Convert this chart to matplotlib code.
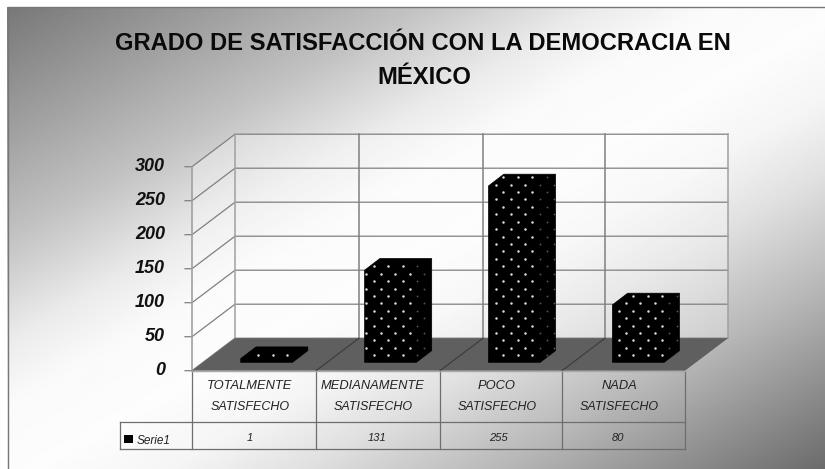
import numpy as np
import matplotlib
matplotlib.use("Agg")
import matplotlib.pyplot as plt
from matplotlib.path import Path
from matplotlib.patches import Polygon

plt.rcParams['font.family'] = ['Liberation Sans', 'DejaVu Sans']

# Chart data
categories = [["TOTALMENTE", "SATISFECHO"], ["MEDIANAMENTE", "SATISFECHO"],
              ["POCO", "SATISFECHO"], ["NADA", "SATISFECHO"]]
values = [1, 131, 255, 80]
series_name = "Serie1"
y_ticks = [0, 50, 100, 150, 200, 250, 300]

W, H = 825, 469
front_x = [192, 316, 440, 562, 685]
dx, dy = 43, 32.5      # oblique offset of the back wall
y0_front = 370.7
px_per_unit = 204 / 300

fig = plt.figure(figsize=(W / 100, H / 100), dpi=100)
ax = fig.add_axes([0, 0, 1, 1])
ax.set_xlim(0, W)
ax.set_ylim(H, 0)
ax.axis('off')

# diagonal background shading
xx, yy = np.meshgrid(np.linspace(0, 1, W), np.linspace(0, 1, H))
t = (xx + yy) / 2
shade = np.interp(t, [0, 0.25, 0.36, 0.43, 0.52, 0.6, 0.68, 0.8, 1],
                  [0.47, 0.76, 0.92, 0.98, 0.99, 0.96, 0.88, 0.72, 0.42])
ax.imshow(shade, cmap='gray', vmin=0, vmax=1, extent=[7, W, H, 7], aspect='auto', zorder=0)
ax.plot([7.5, 7.5, W], [H, 7.5, 7.5], color='#777777', lw=1, zorder=1)


def yf(v):
    return y0_front - v * px_per_unit


grid = '#808080'
# walls
wall = [(front_x[0], yf(300)), (front_x[0] + dx, yf(300) - dy), (front_x[-1] + dx, yf(300) - dy),
        (front_x[-1] + dx, y0_front - dy), (front_x[0] + dx, y0_front - dy), (front_x[0], y0_front)]
ax.add_patch(Polygon(wall, closed=True, fc='white', ec='none', alpha=0.3, zorder=1))

for v in y_ticks:
    ax.plot([front_x[0] - 7, front_x[0], front_x[0] + dx, front_x[-1] + dx],
            [yf(v), yf(v), yf(v) - dy, yf(v) - dy], color=grid, lw=0.9, zorder=2)
    ax.text(165, yf(v), str(v), ha='right', va='center', fontsize=13, fontweight='bold',
            fontstyle='italic', color='#111111', zorder=6)

ax.plot([front_x[0]] * 2, [yf(300), y0_front], color='#a0a0a0', lw=1.2, zorder=2)
for x in front_x:
    ax.plot([x + dx] * 2, [yf(300) - dy, y0_front - dy],
            color='#a0a0a0' if x in (front_x[0], front_x[-1]) else '#808080', lw=1.1, zorder=2)

# floor
floor = [(front_x[0], y0_front), (front_x[0] + dx, y0_front - dy),
         (front_x[-1] + dx, y0_front - dy), (front_x[-1], y0_front)]
ax.add_patch(Polygon(floor, closed=True, fc='#5f5f5f', ec='none', zorder=3))
for x in front_x[1:-1]:
    ax.plot([x, x + dx], [y0_front, y0_front - dy], color='#3a3a3a', lw=0.8, zorder=3)

# bars and their dotted fill
bar_left = 240.7
bar_pitch = 123.9
bar_w = 51.8
bar_bottom = 362.3
depth_x, depth_y = 15.3, 11.7
rows = np.arange(0, 30)
cols = np.arange(-12, 30)
for i, v in enumerate(values):
    x0 = bar_left + i * bar_pitch
    x1 = x0 + bar_w
    top = bar_bottom - 3 - v * px_per_unit
    outline = [(x0, bar_bottom), (x0, top), (x0 + depth_x, top - depth_y), (x1 + depth_x, top - depth_y),
               (x1 + depth_x, bar_bottom - depth_y), (x1, bar_bottom)]
    ax.add_patch(Polygon(outline, closed=True, fc='black', ec='black', lw=0.5, zorder=4))
    gx, gy = [], []
    for r in rows:
        for c in cols:
            gx.append(373.7 + 14.42 * (c + 0.5 * (r % 2)))
            gy.append(355.3 - 7.42 * r)
    pts = np.column_stack([gx, gy])
    inside = pts[Path(outline).contains_points(pts, radius=-2.0)]
    if len(inside) == 0:
        inside = pts[Path(outline).contains_points(pts, radius=2.0)]
    on_side = inside[:, 0] > x1 - 1
    ax.scatter(inside[~on_side, 0], inside[~on_side, 1], s=3.2, c='#dddddd', linewidths=0, zorder=5)
    ax.scatter(inside[on_side, 0], inside[on_side, 1], s=1.8, c='#555555', linewidths=0, zorder=5)

# data table under the plot
tbl_mid = 422
tbl_bottom = 449.3
tbl_left = 119.5
line = '#6e6e6e'
ax.plot([front_x[0], front_x[-1]], [y0_front, y0_front], color='#a8a8a8', lw=1, zorder=3)
ax.plot([tbl_left, front_x[-1]], [tbl_mid, tbl_mid], color=line, lw=0.9, zorder=2)
ax.plot([tbl_left, front_x[-1]], [tbl_bottom, tbl_bottom], color=line, lw=0.9, zorder=2)
ax.plot([tbl_left, tbl_left], [tbl_mid, tbl_bottom], color=line, lw=0.9, zorder=2)
for x in front_x:
    ax.plot([x, x], [y0_front, tbl_bottom], color=line, lw=0.9, zorder=2)

cat_x = [250, 373, 497, 619]
val_x = [250, 377, 498, 618]
for cx, vx, cat, v in zip(cat_x, val_x, categories, values):
    ax.text(cx, 385.7, cat[0], ha='center', va='center', fontsize=9.3, fontstyle='italic', color='#222222')
    ax.text(cx, 407.3, cat[1], ha='center', va='center', fontsize=9, fontstyle='italic', color='#222222')
    ax.text(vx, 438, str(v), ha='center', va='center', fontsize=8, fontstyle='italic', color='#222222')

ax.add_patch(plt.Rectangle((124, 435), 8.7, 8, fc='black', ec='none', zorder=4))
ax.text(137, 441, series_name, ha='left', va='center', fontsize=8.5, fontstyle='italic', color='#222222')

# title
ax.text(422.5, 50, "GRADO DE SATISFACCIÓN CON LA DEMOCRACIA EN", ha='center', va='baseline',
        fontsize=17.1, fontweight='bold', color='#0a0a0a')
ax.text(424.5, 84, "MÉXICO", ha='center', va='baseline', fontsize=17.1, fontweight='bold', color='#0a0a0a')

fig.savefig('out.png', dpi=100)
